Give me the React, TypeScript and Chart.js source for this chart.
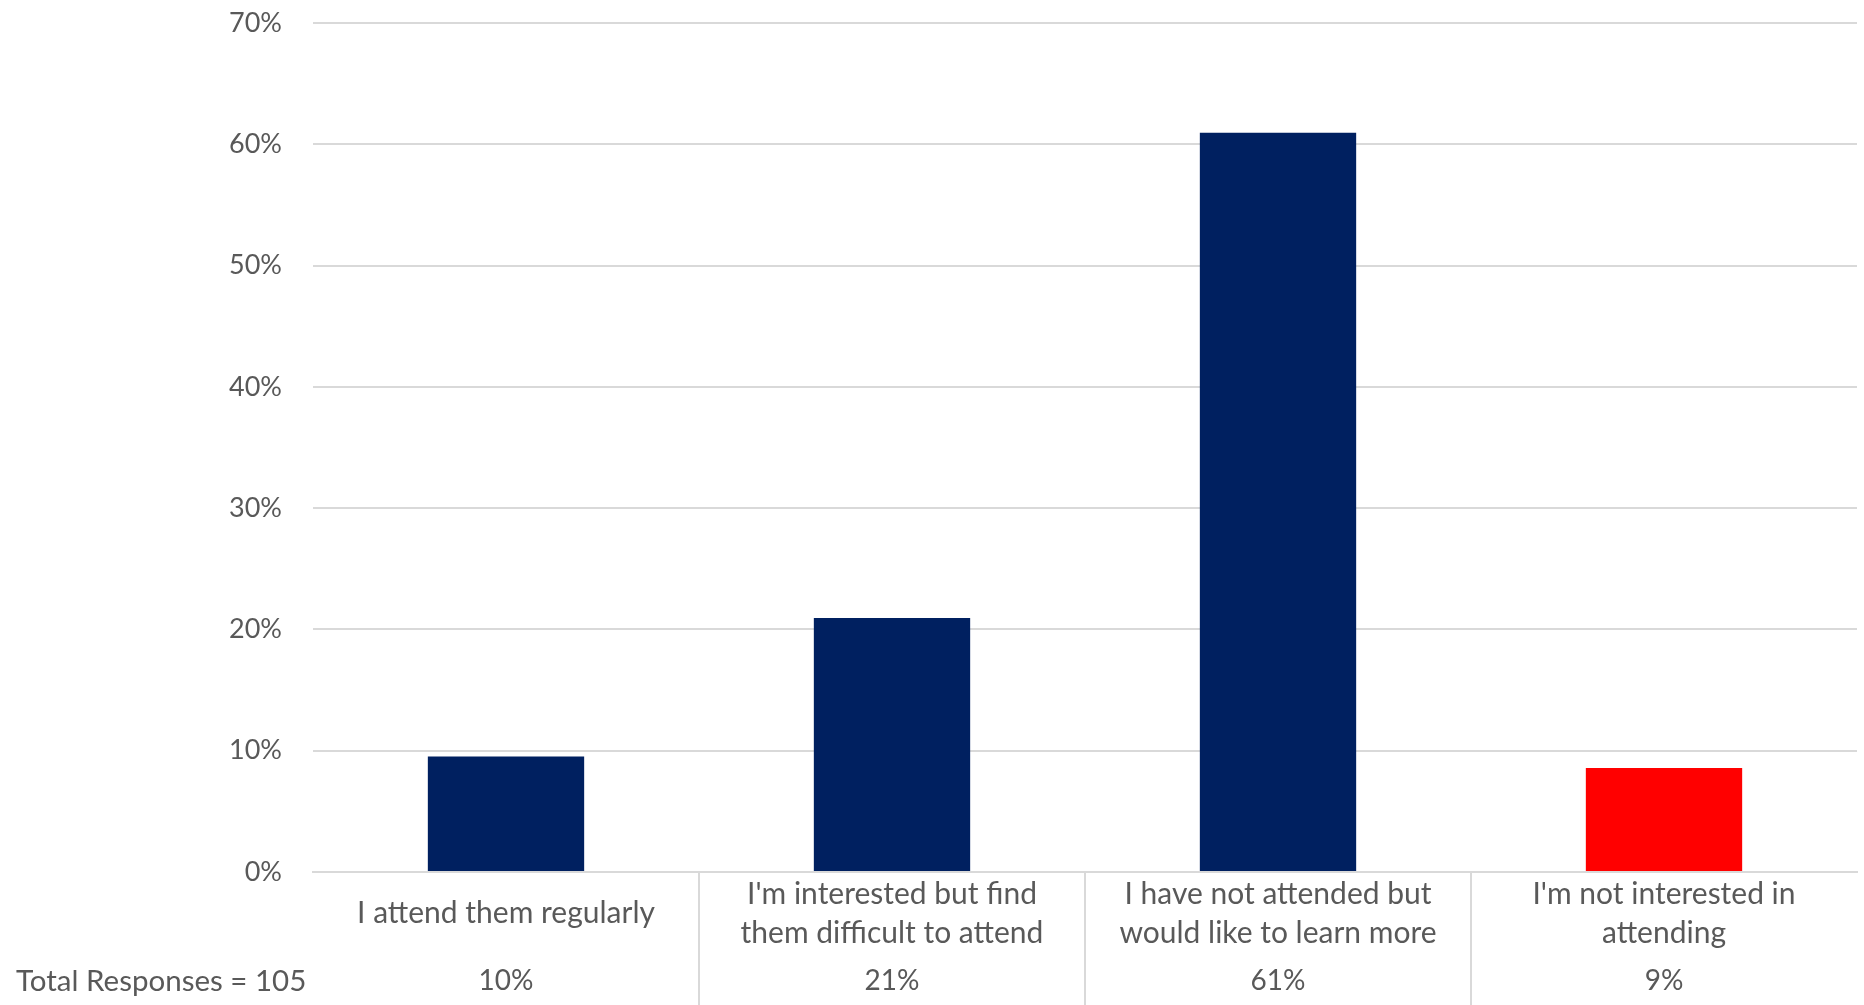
import React, { useEffect, useRef } from "react";
import { Chart, registerables } from "chart.js";

Chart.register(...registerables);

const categoryLines: string[][] = [
  ["I attend them regularly"],
  ["I'm interested but find", "them difficult to attend"],
  ["I have not attended but", "would like to learn more"],
  ["I'm not interested in", "attending"],
];
const categories: string[] = categoryLines.map((l) => l.join(" "));
const values: number[] = [0.0952, 0.2095, 0.6095, 0.0857];
const percentLabels: string[] = ["10%", "21%", "61%", "9%"];
const barColors: string[] = ["#002060", "#002060", "#002060", "#FF0000"];
const totalLabel = "Total Responses = 105";

const FONT = "Lato";
const TEXT_COLOR = "#595959";
const GRID_COLOR = "#d9d9d9";

const tablePlugin = {
  id: "tableRows",
  afterDraw(chart: any) {
    const { ctx, chartArea, scales } = chart;
    const xs = scales.x;
    const bottom = chartArea.bottom;
    const h = chart.height;
    ctx.save();
    ctx.strokeStyle = GRID_COLOR;
    ctx.lineWidth = 2;
    for (let i = 0; i < categories.length - 1; i++) {
      const xm = (xs.getPixelForValue(i) + xs.getPixelForValue(i + 1)) / 2;
      ctx.beginPath();
      ctx.moveTo(xm, bottom);
      ctx.lineTo(xm, h);
      ctx.stroke();
    }
    ctx.fillStyle = TEXT_COLOR;
    ctx.textAlign = "center";
    ctx.textBaseline = "middle";
    categoryLines.forEach((lines, i) => {
      const x = xs.getPixelForValue(i);
      ctx.font = `30px ${FONT}`;
      if (lines.length === 1) {
        ctx.fillText(lines[0], x, bottom + 41);
      } else {
        lines.forEach((ln, j) => ctx.fillText(ln, x, bottom + 22 + j * 39));
      }
      ctx.font = `28px ${FONT}`;
      ctx.fillText(percentLabels[i], x, bottom + 109);
    });
    ctx.font = `29.5px ${FONT}`;
    ctx.textAlign = "left";
    ctx.fillText(totalLabel, 16, bottom + 109);
    ctx.restore();
  },
};

export default function App() {
  const ref = useRef<HTMLCanvasElement | null>(null);
  useEffect(() => {
    if (!ref.current) return;
    const chart = new Chart(ref.current, {
      type: "bar",
      data: {
        labels: categories,
        datasets: [
          {
            data: values,
            backgroundColor: barColors,
            barPercentage: 0.405,
            categoryPercentage: 1,
          },
        ],
      },
      options: {
        responsive: false,
        animation: false,
        devicePixelRatio: 1,
        layout: { padding: { top: 0, right: 7, left: 0, bottom: 0 } },
        plugins: { legend: { display: false }, tooltip: { enabled: false } },
        scales: {
          x: {
            grid: { display: false, drawTicks: false },
            border: { display: true, color: GRID_COLOR, width: 2 },
            ticks: { display: false },
            afterFit: (s: any) => {
              s.height = 133;
            },
          },
          y: {
            min: 0,
            max: 0.7,
            ticks: {
              stepSize: 0.1,
              callback: (v: any) => Math.round(Number(v) * 100) + "%",
              color: TEXT_COLOR,
              font: { family: FONT, size: 27 },
              padding: 31,
            },
            grid: { color: GRID_COLOR, lineWidth: 2, drawTicks: false },
            border: { display: false },
            afterFit: (s: any) => {
              s.width = 313;
              s.paddingTop = 23;
              s.paddingBottom = 0;
            },
          },
        },
      },
      plugins: [tablePlugin],
    });
    return () => chart.destroy();
  }, []);
  return (
    <div style={{ position: "absolute", left: 0, top: 0, width: 1864, height: 1005, background: "#fff" }}>
      <canvas ref={ref} width={1864} height={1005} style={{ width: 1864, height: 1005 }} />
    </div>
  );
}
